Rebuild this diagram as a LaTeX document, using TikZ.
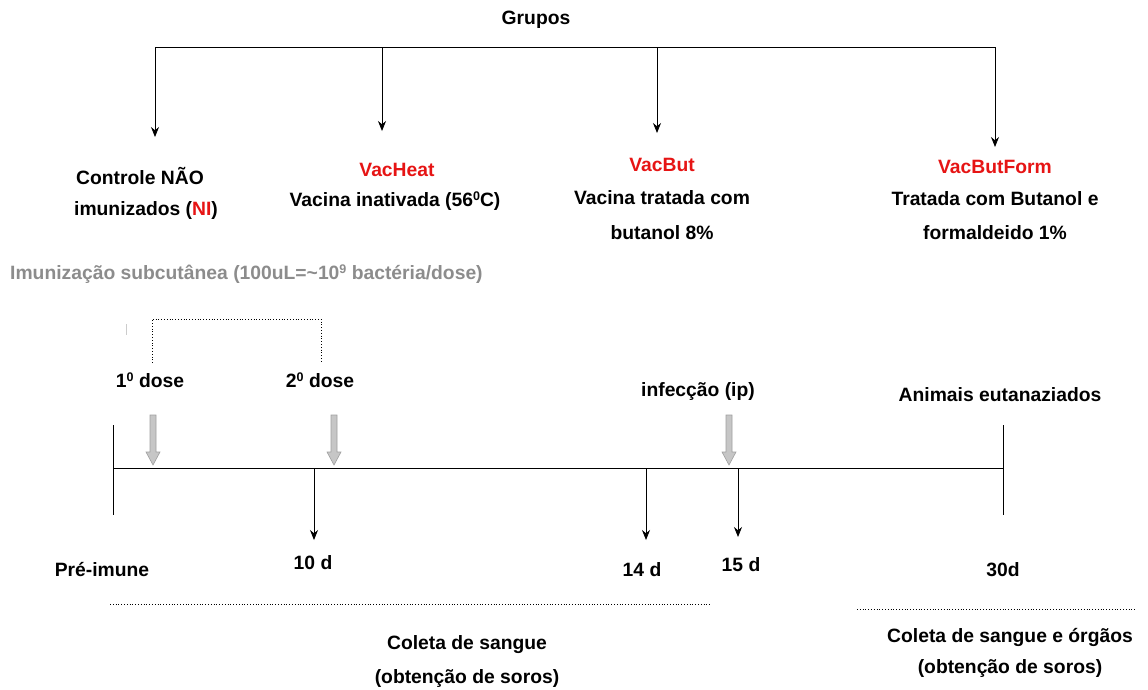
\documentclass[tikz,border=0pt]{standalone}
\usepackage{fontspec}
\setmainfont{Liberation Sans}
\usetikzlibrary{arrows.meta}
\definecolor{vred}{RGB}{230,20,20}
\definecolor{imgray}{RGB}{140,140,140}
\newcommand{\mysup}[1]{\raisebox{0.62ex}{\fontsize{12.5}{13}\selectfont #1}}
\begin{document}
\begin{tikzpicture}[x=1pt,y=-1pt,
  every node/.style={font=\fontsize{19.3}{22}\selectfont\bfseries, inner sep=0pt, anchor=center},
  conn/.style={line width=0.9pt, -{Stealth[length=10pt,width=8pt]}},
  tl/.style={line width=0.9pt},
  dotln/.style={line width=0.8pt, dotted},
  garrow/.style={fill=gray!45, draw=gray!75, line width=0.6pt}]
\useasboundingbox (0,0) rectangle (1148,689);
% Groups
\node (grupos) at (536,20) {Grupos};
\coordinate (h1) at (155,47);
\coordinate (h4) at (995,47);
\draw[tl] (h1) -- (h4);
\node (ctrl1) at (140,176) {Controle NÃO};
\node (ctrl2) at (146,211) {imunizados (\textcolor{vred}{NI})};
\node[text=vred] (heat) at (397,170) {VacHeat};
\node (heat2) at (395,201) {Vacina inativada (56\mysup{0}C)};
\node[text=vred] (but) at (662,165) {VacBut};
\node (but2) at (662,198) {Vacina tratada com};
\node (but3) at (662,233) {butanol 8\%};
\node[text=vred] (form) at (995,167) {VacButForm};
\node (form2) at (995,199) {Tratada com Butanol e};
\node (form3) at (995,233) {formaldeido 1\%};
\coordinate (a1) at (155,137);
\coordinate (a2) at (382,131);
\coordinate (a3) at (657,133);
\coordinate (a4) at (995,147);
\draw[conn] (h1) -- (a1);
\draw[conn] (382,47) -- (a2);
\draw[conn] (657,47) -- (a3);
\draw[conn] (h4) -- (a4);
% immunization
\node[anchor=west, text=imgray] (imun) at (10,274) {Imunização subcutânea (100uL=\textasciitilde10\mysup{9} bactéria/dose)};
\draw[gray!40, line width=0.8pt] (126,324) -- (126,335);
\node (d1) at (150,380) {1\mysup{0} dose};
\node (d2) at (320,380) {2\mysup{0} dose};
\draw[dotln] (152,363) -- (152,319) -- (321,319) -- (321,363);
\node (inf) at (698,392) {infecção (ip)};
\node (euth) at (1000,395) {Animais eutanaziados};
% timeline
\coordinate (t0) at (113,468);
\coordinate (t1) at (1003,468);
\draw[tl] (t0) -- (t1);
\draw[tl] (113,425) -- (113,515);
\draw[tl] (1003,425) -- (1003,515);
% grey double arrows
\foreach \gx in {153,334,729}{
  \draw[garrow] (\gx-3,415) -- (\gx+3,415) -- (\gx+3,452) -- (\gx+7,452) -- (\gx,465) -- (\gx-7,452) -- (\gx-3,452) -- cycle;
}
% down arrows
\node (l10) at (313,563) {10 d};
\node (l14) at (642,570) {14 d};
\node (l15) at (741,565) {15 d};
\node (pre) at (102,570) {Pré-imune};
\node (l30) at (1003,570) {30d};
\draw[conn] (314,468) -- (314,540);
\draw[conn] (646,468) -- (646,540);
\draw[conn] (738,468) -- (738,537);
% collection
\draw[dotln] (110,604) -- (710,604);
\draw[dotln] (857,609) -- (1135,609);
\node (c1) at (467,645) {Coleta de sangue};
\node (c2) at (467,678) {(obtenção de soros)};
\node (c3) at (1010,637) {Coleta de sangue e órgãos};
\node (c4) at (1010,668) {(obtenção de soros)};
\end{tikzpicture}
\end{document}
